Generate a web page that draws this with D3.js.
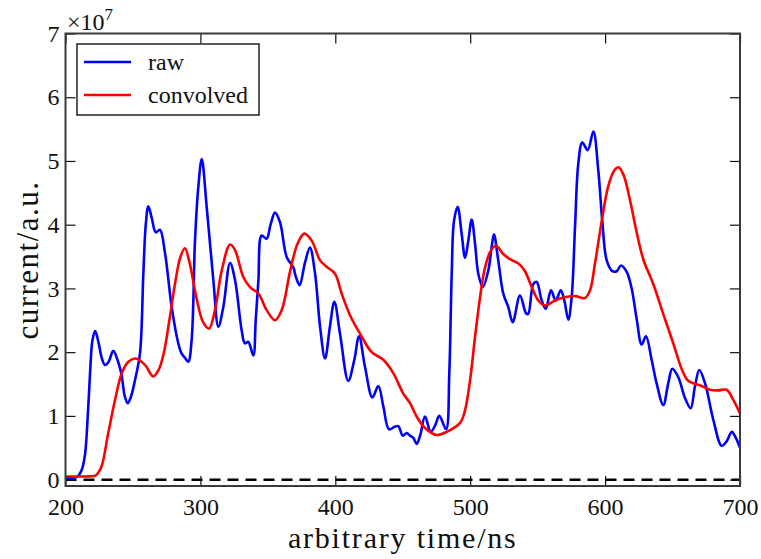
<!DOCTYPE html>
<html>
<head>
<meta charset="utf-8">
<script src="https://cdn.jsdelivr.net/npm/d3@7"></script>
<style>
  html, body { margin: 0; padding: 0; background: #fff; }
  svg text { font-family: "Liberation Serif", serif; fill: #111; }
</style>
</head>
<body>
<svg id="chart" width="761" height="559"></svg>
<script>
// values in units of 1e7 (see the x10^7 multiplier)
let rawTime = [200, 205, 209, 212, 214.5, 216.5, 218.2, 220, 222, 224.5, 227, 229.3, 232, 235.4, 239, 241.5, 244, 246.1, 248.5, 251.5,
  255.2, 257.7, 259.5, 261.4, 264, 266.9, 270, 273.8, 278.7, 283.6, 286, 288.6, 291, 293.5, 296, 298.5, 301, 304.7, 309.6, 313.3,
  317, 322, 325.7, 330.6, 333, 335.5, 339.2, 341, 343, 345.4, 349.1, 352, 355.3, 359, 364, 368.9, 370.5, 373.5, 377.5, 381.2,
  385, 388.7, 392.4, 396, 399.3, 403.5, 409.6, 414.1, 417.6, 422, 427.5, 431.9, 435.6, 439.8, 444, 446.7, 450, 452.9, 455.4, 458,
  460.3, 463, 466.5, 470.7, 474, 477.1, 482.1, 484.5, 486.3, 488, 490.7, 493.7, 496.2, 498.6, 501.1, 503.6, 506, 509.3, 513.4, 515.9,
  517.6, 520.8, 524.5, 528.2, 531.5, 536.9, 541.4, 543, 546.8, 549.3, 553, 556, 559.9, 563.4, 567.1, 569.8, 572.7, 575.2, 577.7, 580.1,
  583.1, 587.1, 591.3, 595, 597.9, 601.2, 605.4, 608.6, 611.8, 616, 619.7, 623.4, 627.1, 630.3, 634.5, 638.2, 643.1, 646.8, 649.8, 654.2,
  659.2, 663.4, 666.6, 669.8, 674.1, 680.2, 686.4, 690.1, 693.9, 697, 700];
let rawCurrent = [0.03, 0.03, 0.05, 0.15, 0.4, 1.0, 1.67, 2.19, 2.33, 2.15, 1.9, 1.80, 1.85, 2.02, 1.85, 1.65, 1.3, 1.20, 1.3, 1.56,
  1.98, 3.23, 4.0, 4.29, 4.1, 3.88, 3.92, 3.55, 2.71, 2.14, 1.98, 1.91, 1.85, 2.19, 3.75, 4.6, 5.03, 4.27, 3.13, 2.40,
  2.71, 3.40, 3.13, 2.34, 2.14, 2.16, 1.95, 2.5, 3.13, 3.83, 3.78, 4.0, 4.19, 4.04, 3.49, 3.33, 3.2, 3.05, 3.4, 3.64,
  3.23, 2.40, 1.90, 2.40, 2.79, 2.29, 1.55, 1.88, 2.25, 1.77, 1.29, 1.47, 1.15, 0.79, 0.83, 0.84, 0.69, 0.73, 0.69, 0.65,
  0.56, 0.7, 0.99, 0.75, 0.85, 1.00, 0.79, 1.67, 3.23, 4.06, 4.28, 3.85, 3.48, 3.75, 4.08, 3.70, 3.23, 3.02, 3.28, 3.65,
  3.85, 3.44, 2.92, 2.71, 2.47, 2.89, 2.61, 2.60, 3.07, 3.10, 2.81, 2.68, 2.97, 2.81, 2.97, 2.81, 2.51, 2.86, 3.96, 4.95,
  5.29, 5.17, 5.46, 4.84, 4.06, 3.44, 3.27, 3.27, 3.36, 3.26, 3.0, 2.52, 2.12, 2.25, 1.88, 1.51, 1.17, 1.51, 1.74, 1.61,
  1.28, 1.12, 1.46, 1.72, 1.51, 0.94, 0.53, 0.60, 0.75, 0.65, 0.50];

let convTime = [200, 215, 221.9, 224, 226.8, 231.7, 236.7, 241.7, 246.6, 252, 258.9, 265, 269, 273, 277, 281, 285, 288.5, 292, 297,
  302, 306.4, 310.8, 315.8, 322, 325.7, 331.8, 336.8, 343, 349.1, 355.3, 360.3, 366.4, 372, 377, 382.5, 388.7, 393.6, 399.8, 404.7,
  410.9, 418.3, 427, 435.6, 443, 450.4, 455.4, 460.3, 466.5, 475.2, 482.6, 492.5, 496.2, 499.9, 503.6, 507.3, 511, 515.2, 519.1, 524.5,
  529.5, 535.7, 540.6, 545.6, 550.5, 555.5, 562.9, 570.3, 577.7, 585.1, 588.8, 592.5, 597.5, 602.4, 606.8, 609.8, 613.5, 618.5, 623.4, 628.4,
  635.7, 643.1, 650.5, 656.7, 661.6, 670.3, 677.7, 683.9, 690.1, 695, 700];
let convCurrent = [0.05, 0.05, 0.06, 0.1, 0.21, 0.73, 1.25, 1.67, 1.85, 1.90, 1.80, 1.62, 1.72, 2.0, 2.5, 3.05, 3.48, 3.63, 3.4, 2.86,
  2.47, 2.37, 2.66, 3.28, 3.69, 3.6, 3.18, 3.02, 2.92, 2.66, 2.50, 2.66, 3.26, 3.7, 3.86, 3.75, 3.44, 3.34, 3.23, 2.92,
  2.58, 2.29, 2.00, 1.88, 1.67, 1.35, 1.20, 0.99, 0.81, 0.70, 0.75, 0.89, 1.09, 1.56, 2.24, 2.86, 3.33, 3.59, 3.67, 3.54,
  3.46, 3.39, 3.27, 3.02, 2.81, 2.73, 2.81, 2.86, 2.88, 2.85, 2.97, 3.39, 4.06, 4.61, 4.85, 4.90, 4.79, 4.38, 3.88, 3.45,
  3.07, 2.60, 2.14, 1.74, 1.55, 1.48, 1.41, 1.40, 1.41, 1.25, 1.04];

let xTicks = [200, 300, 400, 500, 600, 700];
let yTicks = [0, 1, 2, 3, 4, 5, 6, 7];
let seriesNames = ['raw', 'convolved'];
let seriesColors = ['#0000ff', '#ff0000'];

let svg = d3.select('#chart'),
    mLeft = 65.5, mRight = 740, mTop = 33.5, mBottom = 486;

let x = d3.scaleLinear().domain([200, 700]).range([mLeft, mRight]);
let y = d3.scaleLinear().domain([-0.1, 7]).range([mBottom, mTop]);

// clip the curves to the plot box
svg.append('clipPath').attr('id', 'plotClip')
  .append('rect').attr('x', mLeft).attr('y', mTop).attr('width', mRight - mLeft).attr('height', mBottom - mTop);

let line = d3.line()
  .x(d => x(d[0]))
  .y(d => y(d[1]))
  .curve(d3.curveCatmullRom.alpha(0.5));

let plot = svg.append('g').attr('clip-path', 'url(#plotClip)');

// zero line
plot.append('line')
  .attr('x1', mLeft).attr('x2', mRight)
  .attr('y1', y(0)).attr('y2', y(0))
  .attr('stroke', '#000').attr('stroke-width', 2.5)
  .attr('stroke-dasharray', '11,7');

let series = [
  d3.zip(rawTime, rawCurrent),
  d3.zip(convTime, convCurrent)
];

series.forEach((pts, i) => {
  plot.append('path')
    .datum(pts)
    .attr('d', line)
    .attr('fill', 'none')
    .attr('stroke', seriesColors[i])
    .attr('stroke-width', 2.6)
    .attr('stroke-linejoin', 'round');
});

// axes, ticks pointing inward on all four sides
let styleAxis = (g) => {
  g.attr('font-family', '"Liberation Serif", serif');
  g.select('.domain').remove();
  g.selectAll('.tick line').attr('stroke', '#111').attr('stroke-width', 1.2);
  g.selectAll('.tick text').attr('font-size', 24).attr('fill', '#111')
    .style('font-family', '"Liberation Serif", serif');
};

svg.append('g').attr('transform', `translate(0,${mBottom})`)
  .call(d3.axisBottom(x).tickValues(xTicks).tickSize(-10).tickPadding(12).tickFormat(d3.format('d')))
  .call(styleAxis);
svg.append('g').attr('transform', `translate(0,${mTop})`)
  .call(d3.axisTop(x).tickValues(xTicks).tickSize(-10).tickFormat(''))
  .call(styleAxis);
svg.append('g').attr('transform', `translate(${mLeft},0)`)
  .call(d3.axisLeft(y).tickValues(yTicks).tickSize(-10).tickPadding(6).tickFormat(d3.format('d')))
  .call(styleAxis);
svg.append('g').attr('transform', `translate(${mRight},0)`)
  .call(d3.axisRight(y).tickValues(yTicks).tickSize(-10).tickFormat(''))
  .call(styleAxis);

// frame
svg.append('rect')
  .attr('x', mLeft).attr('y', mTop)
  .attr('width', mRight - mLeft).attr('height', mBottom - mTop)
  .attr('fill', 'none').attr('stroke', '#3a3a3a').attr('stroke-width', 2);

// multiplier
let mult = svg.append('text').attr('x', 67).attr('y', 30).attr('font-size', 24);
mult.append('tspan').text('\u00d710');
mult.append('tspan').attr('dy', -10).attr('font-size', 17).text('7');

// axis titles
svg.append('text')
  .attr('x', (mLeft + mRight) / 2).attr('y', 548)
  .attr('text-anchor', 'middle').attr('font-size', 30)
  .attr('letter-spacing', 1.8)
  .text('arbitrary time/ns');
svg.append('text')
  .attr('transform', `translate(38,260) rotate(-90)`)
  .attr('text-anchor', 'middle').attr('font-size', 31)
  .attr('letter-spacing', 1.5)
  .text('current/a.u.');

// legend
let legend = svg.append('g');
legend.append('rect')
  .attr('x', 77).attr('y', 44).attr('width', 182).attr('height', 71)
  .attr('fill', '#fff').attr('stroke', '#222').attr('stroke-width', 1.5);
seriesNames.forEach((name, i) => {
  let ly = 62 + i * 33;
  legend.append('line')
    .attr('x1', 84).attr('x2', 131).attr('y1', ly).attr('y2', ly)
    .attr('stroke', seriesColors[i]).attr('stroke-width', 2.6);
  legend.append('text')
    .attr('x', 148).attr('y', ly + 7.5).attr('font-size', 24)
    .text(name);
});
</script>
</body>
</html>
